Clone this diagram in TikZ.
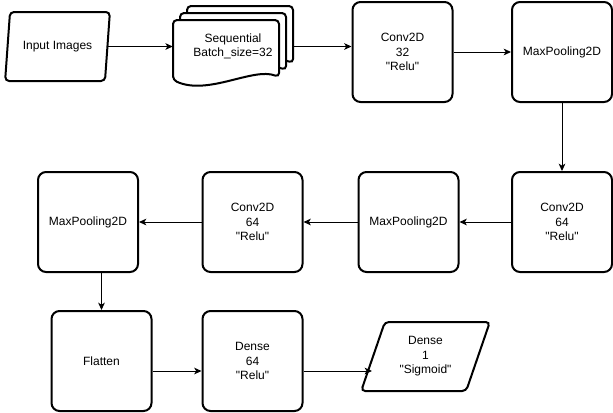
\documentclass[tikz,border=0pt]{standalone}
\usepackage{fontspec}
\setmainfont{Liberation Sans}
\usetikzlibrary{shapes.geometric,arrows.meta}

\tikzset{
	layer/.style={draw, line width=1.5pt, rounded corners=6pt, minimum width=75pt, minimum height=75pt, align=center, inner sep=0.75pt},
	iobox/.style={trapezium, trapezium stretches=true, draw, line width=1.5pt, rounded corners=3pt, minimum height=51.75pt, align=center, inner sep=0.75pt},
	page/.style={draw, line width=1.5pt, fill=white, rounded corners=3pt},
	arr/.style={-{Stealth[length=5.5pt,width=5pt,inset=1.5pt]}, line width=0.75pt}
}
\newcommand{\qt}[1]{\textquotedbl#1\textquotedbl}

\begin{document}
\begin{tikzpicture}[x=0.75pt,y=0.75pt,yscale=-1,xscale=1,font=\fontsize{9pt}{10.9pt}\selectfont]
		\useasboundingbox (0,0) rectangle (613,412);

		% stack of pages for the sequential model
		\draw[page] (187,66) -- (187,6) -- (293,6) -- (293,63) .. controls (267,53) and (222,82) .. (187,66) -- cycle ;
		\draw[page] (180,73) -- (180,13) -- (286,13) -- (286,70) .. controls (260,60) and (215,89) .. (180,73) -- cycle ;
		\draw[page] (173,80) -- (173,20) -- (279,20) -- (279,77) .. controls (253,67) and (208,96) .. (173,80) -- cycle ;

		\node (inp) [iobox, trapezium left angle=73.8, trapezium right angle=106.2, minimum width=78.75pt] at (57.5,46.5) {Input Images};
		\node (seq) [minimum width=90pt, minimum height=42pt, align=center, inner sep=0.75pt] at (233,46.5) {Sequential\\Batch\_size=32};
		\node (conv1) [layer] at (402.5,52) {Conv2D\\32\\\qt{Relu}};
		\node (pool1) [layer] at (562,52) {MaxPooling2D};

		\node (conv2) [layer] at (562,222) {Conv2D\\64\\\qt{Relu}};
		\node (pool2) [layer] at (408.5,222) {MaxPooling2D};
		\node (conv3) [layer] at (252.5,222) {Conv2D\\64\\\qt{Relu}};
		\node (pool3) [layer] at (88,222) {MaxPooling2D};

		\node (flat) [layer] at (101.5,361) {Flatten};
		\node (dense) [layer] at (252.5,361) {Dense\\64\\\qt{Relu}};
		\node (out) [iobox, trapezium left angle=69.4, trapezium right angle=110.6, minimum width=96.75pt] at (425.5,356.5) {Dense\\1\\\qt{Sigmoid}};

		\draw[arr] (inp.east) -- (inp.east -| seq.west);
		\draw[arr] (seq.east) -- (seq.east -| conv1.west);
		\draw[arr] (conv1.east) -- (pool1.west);
		\draw[arr] (pool1.south) -- (conv2.north);
		\draw[arr] (conv2.west) -- (pool2.east);
		\draw[arr] (pool2.west) -- (conv3.east);
		\draw[arr] (conv3.west) -- (pool3.east);
		\draw[arr] (pool3.south -| flat.north) -- (flat.north);
		\draw[arr] ([yshift=7.5pt]flat.east) -- ([yshift=7.5pt]dense.west);
		\draw[arr] ([yshift=7.5pt]dense.east) -- ([yshift=7.5pt]dense.east -| out.west);
	\end{tikzpicture}
\end{document}
